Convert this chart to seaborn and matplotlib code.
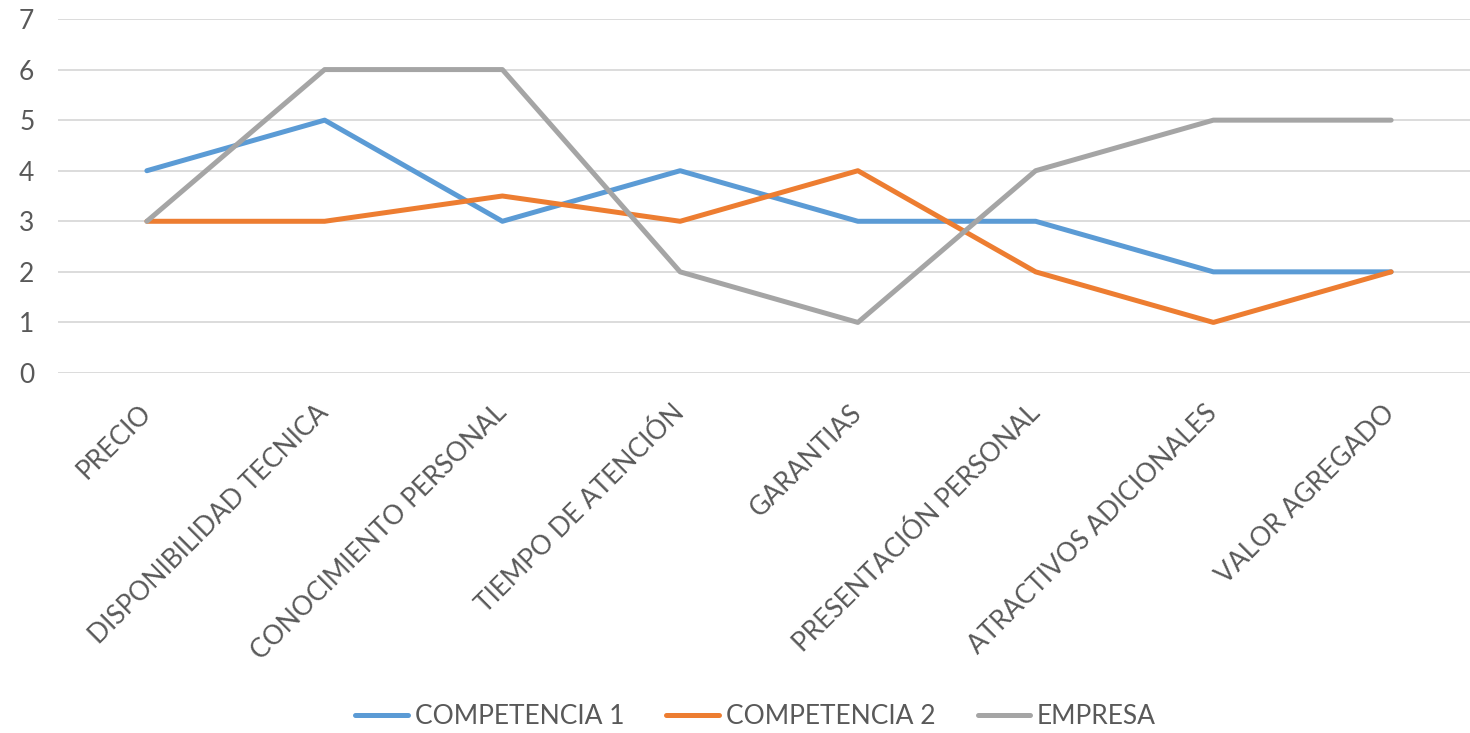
import pandas as pd
import matplotlib.pyplot as plt
import seaborn as sns

# Data
categorias = ['PRECIO', 'DISPONIBILIDAD TECNICA', 'CONOCIMIENTO PERSONAL',
              'TIEMPO DE ATENCIÓN', 'GARANTIAS', 'PRESENTACIÓN PERSONAL',
              'ATRACTIVOS ADICIONALES', 'VALOR AGREGADO']
competencia_1 = [4, 5, 3, 4, 3, 3, 2, 2]
competencia_2 = [3, 3, 3.5, 3, 4, 2, 1, 2]
empresa = [3, 6, 6, 2, 1, 4, 5, 5]
series_names = ['COMPETENCIA 1', 'COMPETENCIA 2', 'EMPRESA']
colores = ['#5B9BD5', '#ED7D31', '#A5A5A5']

df = pd.DataFrame({'categoria': categorias,
                   'COMPETENCIA 1': competencia_1,
                   'COMPETENCIA 2': competencia_2,
                   'EMPRESA': empresa})
long_df = df.melt(id_vars='categoria', var_name='serie', value_name='valor')
long_df['pos'] = long_df['categoria'].map({c: i for i, c in enumerate(categorias)})

sns.set_style('white')
plt.rcParams['font.family'] = ['Lato', 'DejaVu Sans']
text_color = '#595959'

fig = plt.figure(figsize=(14.7, 7.33), dpi=100)
ax = fig.add_axes([58 / 1470, (733 - 373) / 733, 1422 / 1470, 354 / 733])

sns.lineplot(data=long_df, x='pos', y='valor', hue='serie', hue_order=series_names,
             palette=colores, linewidth=3.6, ax=ax, legend=False, sort=False)
for line in ax.get_lines():
    line.set_solid_capstyle('round')
    line.set_solid_joinstyle('round')

ax.set_xlim(-0.5, len(categorias) - 0.5)
ax.set_ylim(0, 7)
ax.set_yticks(range(0, 8))
ax.set_xticks(range(len(categorias)))
ax.set_xticklabels(categorias, rotation=45, ha='right', va='center', rotation_mode='anchor')
ax.set_xlabel('')
ax.set_ylabel('')
ax.grid(axis='y', color='#D9D9D9', linewidth=1.3)
ax.set_axisbelow(True)
for s in ax.spines.values():
    s.set_visible(False)
ax.tick_params(axis='both', length=0, colors=text_color, labelsize=19)
ax.tick_params(axis='x', pad=26)
ax.tick_params(axis='y', pad=28)
for lbl in ax.get_yticklabels():
    lbl.set_horizontalalignment('left')

handles = [plt.Line2D([], [], color=c, linewidth=3.6, solid_capstyle='round') for c in colores]
fig.legend(handles, series_names, loc='center', bbox_to_anchor=(0.514, 0.022),
           ncol=3, frameon=False, fontsize=19, handlelength=2.0, handletextpad=0.25,
           columnspacing=1.6, labelcolor=text_color)

fig.savefig('out.png', dpi=100)
